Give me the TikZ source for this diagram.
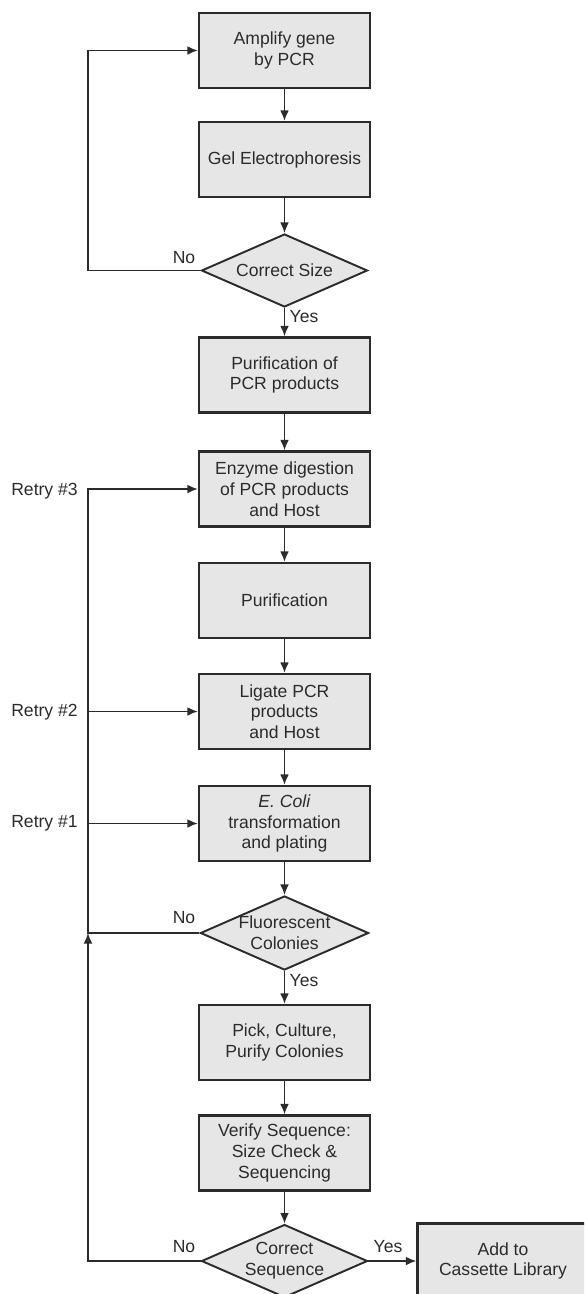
\documentclass[tikz,border=0pt]{standalone}
\usepackage{fontspec}
\setmainfont{Liberation Sans}
\usetikzlibrary{shapes.geometric,arrows.meta}
\definecolor{boxfill}{HTML}{E6E6E6}
\definecolor{inkgray}{HTML}{2B2B2B}

\begin{document}
\begin{tikzpicture}[color=inkgray,font=\fontsize{10}{11.8}\selectfont]

    \useasboundingbox (0,0) rectangle (11.68,-25.88);
    \clip (0,0) rectangle (11.68,-25.88);

    \tikzset{boxstyle/.style={draw,line width=1.3pt,fill=boxfill,minimum width=3.42cm,minimum height=1.5cm,align=center,inner sep=1pt}}
    \tikzset{decstyle/.style={draw,shape=diamond,line width=1.1pt,fill=boxfill,minimum width=3.32cm,minimum height=1.46cm,aspect=2.27,inner sep=0pt,align=center}}

    \node[boxstyle] (b1) at (5.69, -1.01) {Amplify gene\\by PCR};
    \node[boxstyle] (b2) at (5.69, -3.19) {Gel Electrophoresis};
    \node[decstyle] (d1) at (5.69, -5.41) {Correct Size};

    \node[boxstyle] (b3) at (5.69, -7.50) {Purification of\\PCR products};
    \node[boxstyle] (b4) at (5.69, -9.78) {Enzyme digestion\\of PCR products\\and Host};
    \node[boxstyle] (b5) at (5.69, -12.01) {Purification};
    \node[boxstyle] (b6) at (5.69, -14.23) {Ligate PCR\\products\\and Host};
    \node[boxstyle] (b7) at (5.69, -16.47) {\textit{E. Coli}\\transformation\\and plating};
    \node[decstyle] (d2) at (5.69, -18.66) {Fluorescent\\Colonies};

    \node[boxstyle] (b8) at (5.69, -20.85) {Pick, Culture,\\Purify Colonies};
    \node[boxstyle] (b9) at (5.69, -23.06) {Verify Sequence:\\Size Check \&\\Sequencing};
    \node[decstyle] (d3) at (5.69, -25.22) {Correct\\Sequence};
    \node[boxstyle] (lib) at (10.06, -25.22) {Add to\\Cassette Library};

    % rail on the left
    \coordinate (rail) at (1.76, 0);

    \begin{scope}[every path/.style={-{Latex[length=6pt,width=5pt]},line width=0.9pt}]
        \draw (b1) -- (b2);
        \draw (b2) -- (d1);
        \draw (d1) -- (b3);
        \draw (b3) -- (b4);
        \draw (b4) -- (b5);
        \draw (b5) -- (b6);
        \draw (b6) -- (b7);
        \draw (b7) -- (d2);
        \draw (d2) -- (b8);
        \draw (b8) -- (b9);
        \draw (b9) -- (d3);
        \draw (d3) -- (lib);

        \draw (d1.west) -- (rail |- d1) -- (rail |- b1) -- (b1);
        \draw (d2.west) -- (rail |- d2) -- (rail |- b4) -- (b4);
        \draw (rail |- b6) -- (b6);
        \draw (rail |- b7) -- (b7);
        \draw (d3.west) -- (rail |- d3) -- (rail |- d2);
    \end{scope}

    \node (no1) at (3.68, -5.16) {No};
    \node (yes1) at (6.08, -6.34) {Yes};
    \node (no2) at (3.68, -18.36) {No};
    \node (yes2) at (6.08, -19.62) {Yes};
    \node (no3) at (3.68, -24.94) {No};
    \node (yes3) at (7.76, -24.94) {Yes};

    \node (r3) at (0.89, -9.82) {Retry \#3};
    \node (r2) at (0.89, -14.24) {Retry \#2};
    \node (r1) at (0.89, -16.46) {Retry \#1};
    %\draw (r1) -- (b7);
\end{tikzpicture}
\end{document}
